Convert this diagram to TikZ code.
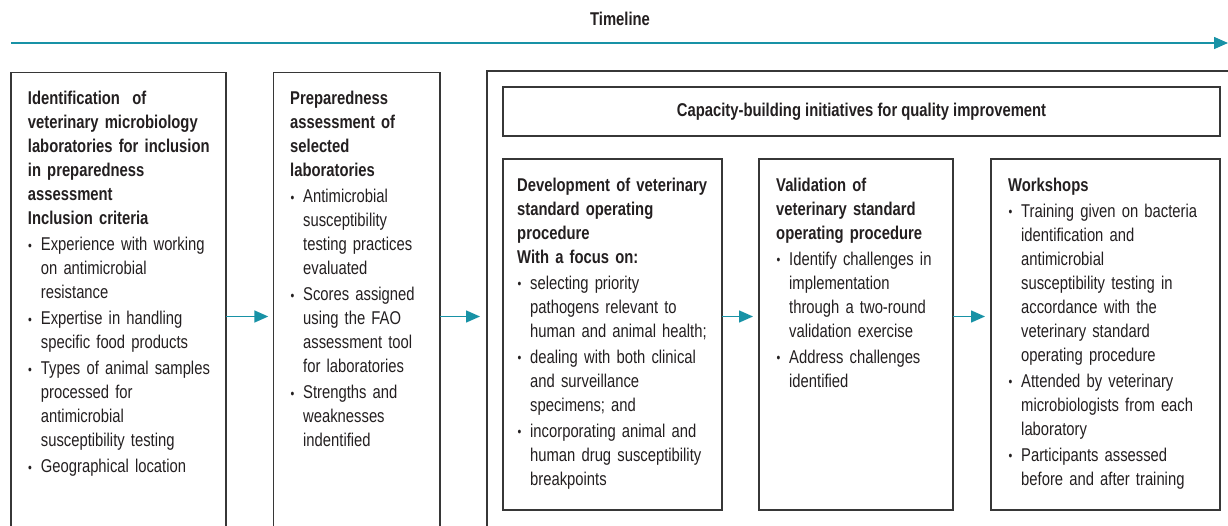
\documentclass[tikz,border=0pt]{standalone}
\usepackage{fontspec}
\setmainfont{Liberation Sans}[FakeStretch=0.8]
\usetikzlibrary{arrows.meta}
\definecolor{tealc}{RGB}{24,146,166}
\definecolor{ink}{RGB}{35,31,32}
\definecolor{framec}{RGB}{55,55,55}
\newcommand{\bdot}{{\fontsize{13.5}{13.5}\selectfont\raisebox{0.3pt}{•}}}
\newcommand{\bitem}{\par\hangindent=13pt\hangafter=1\noindent\makebox[13pt][l]{\hspace{0.3pt}\bdot}}
\newcommand{\prep}{\setlength{\parskip}{2pt}\strut}
\tikzset{
  boxc/.style={draw=framec, line width=1.2pt, inner sep=0pt, outer sep=0pt, anchor=north west},
  txt/.style={anchor=north west, inner sep=0pt, text width=#1, align=left, text=ink,
              font=\fontsize{18.5}{24}\selectfont},
  arr/.style={draw=tealc, line width=1.5pt, -{Triangle[length=14pt,width=12pt]}, tealc},
}
\begin{document}
\begin{tikzpicture}[x=1pt,y=-1pt]
\useasboundingbox (0,0) rectangle (1228,526);
\clip (0,0) rectangle (1228,526);
% timeline
\node[text=ink, font=\fontsize{18.5}{24}\selectfont\bfseries] (tl) at (620,19) {Timeline};
\coordinate (tl0) at (11,43);
\coordinate (tl1) at (1228,43);
\draw[arr] (tl0) -- (tl1);
% boxes
\node[boxc, minimum width=215pt, minimum height=480pt] (b1) at (11,72.7) {};
\node[boxc, minimum width=166.7pt, minimum height=480pt] (b2) at (273.3,72.7) {};
\node[boxc, minimum width=760pt, minimum height=480pt] (big) at (487,71) {};
\node[boxc, minimum width=717pt, minimum height=49pt] (hdr) at (503,87) {};
\node[boxc, minimum width=219pt, minimum height=351pt] (s1) at (503,159) {};
\node[boxc, minimum width=194pt, minimum height=351pt] (s2) at (759,159) {};
\node[boxc, minimum width=229pt, minimum height=351pt] (s3) at (991,159) {};
% header text
\node[text=ink, font=\fontsize{18.5}{24}\selectfont\bfseries] (hdrt) at (hdr.center)
  {Capacity-building initiatives for quality improvement};
% texts
\node[txt=194pt] (t1) at (27.7,87.5) {\prep\textbf{Identification\ \ of\newline veterinary microbiology\newline laboratories for inclusion\newline in preparedness\newline assessment\newline Inclusion criteria}
\bitem Experience with working\newline on antimicrobial\newline resistance
\bitem Expertise in handling\newline specific food products
\bitem Types of animal samples\newline processed for\newline antimicrobial\newline susceptibility testing
\bitem Geographical location\par};
\node[txt=146pt] (t2) at (290,87.5) {\prep\textbf{Preparedness\newline assessment of\newline selected\newline laboratories}
\bitem Antimicrobial\newline susceptibility\newline testing practices\newline evaluated
\bitem Scores assigned\newline using the FAO\newline assessment tool\newline for laboratories
\bitem Strengths and\newline weaknesses\newline indentified\par};
\node[txt=201pt] (t3) at (517,174.2) {\prep\textbf{Development of veterinary\newline standard operating\newline procedure\newline With a focus on:}
\bitem selecting priority\newline pathogens relevant to\newline human and animal health;
\bitem dealing with both clinical\newline and surveillance\newline specimens; and
\bitem incorporating animal and\newline human drug susceptibility\newline breakpoints\par};
\node[txt=173pt] (t4) at (776,174.2) {\prep\textbf{Validation of\newline veterinary standard\newline operating procedure}
\bitem Identify challenges in\newline implementation\newline through a two-round\newline validation exercise
\bitem Address challenges\newline identified\par};
\node[txt=208pt] (t5) at (1008,174.2) {\prep\textbf{Workshops}
\bitem Training given on bacteria\newline identification and\newline antimicrobial\newline susceptibility testing in\newline accordance with the\newline veterinary standard\newline operating procedure
\bitem Attended by veterinary\newline microbiologists from each\newline laboratory
\bitem Participants assessed\newline before and after training\par};
% arrows
\coordinate (ay) at (0,316.5);
\draw[arr, shorten >=5pt] (b1.east |- ay) -- (b2.west |- ay);
\draw[arr, shorten >=7pt] (b2.east |- ay) -- (big.west |- ay);
\draw[arr, shorten >=6pt] (s1.east |- ay) -- (s2.west |- ay);
\draw[arr, shorten >=6pt] (s2.east |- ay) -- (s3.west |- ay);
\end{tikzpicture}
\end{document}
